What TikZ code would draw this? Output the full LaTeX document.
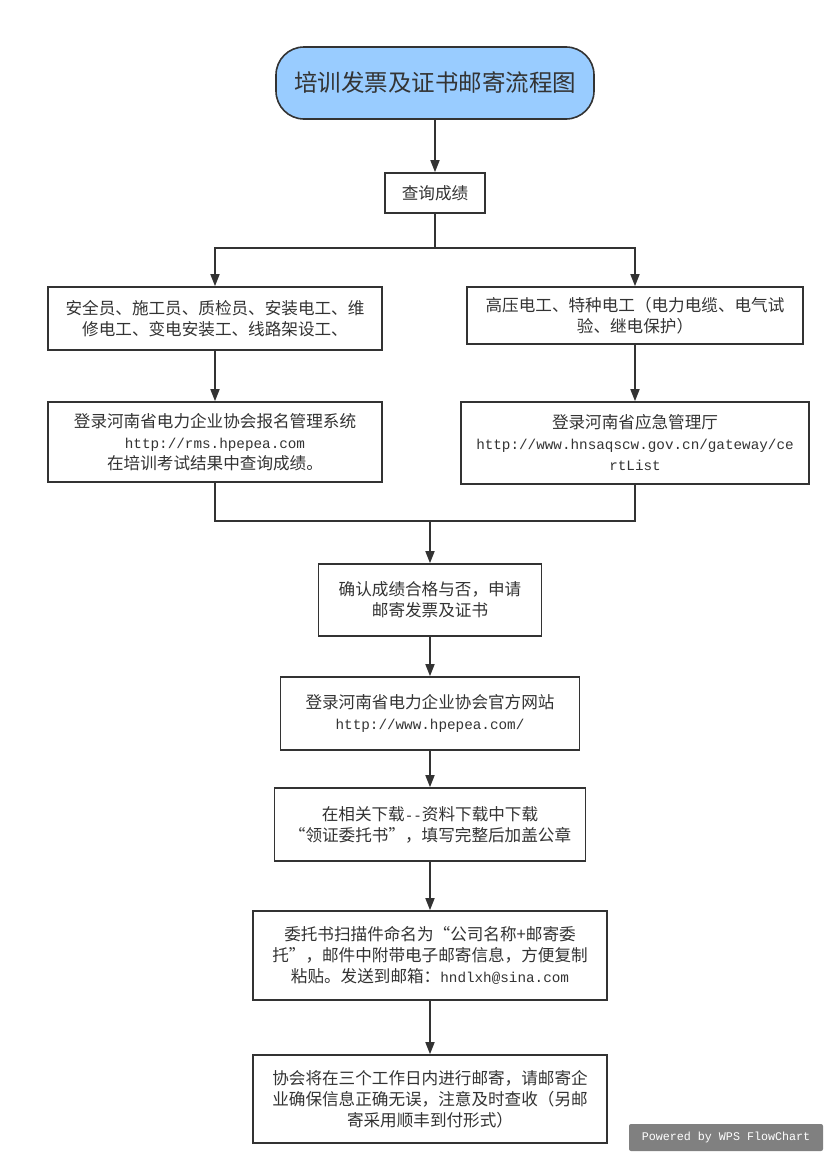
\documentclass[tikz,border=0pt]{standalone}
\usepackage{fontspec}
\setmainfont{Noto Sans CJK SC}
\newfontfamily\urlfont{Liberation Mono}
\usepackage{xcolor}
\usepackage{tikz}
\usetikzlibrary{arrows.meta}
\definecolor{inkgray}{HTML}{333333}
\definecolor{titleblue}{HTML}{99CCFF}
\definecolor{markgray}{HTML}{808080}
\newcommand\weblink[1]{{\urlfont\fontsize{14.3}{21}\selectfont #1}}

\begin{document}
\begin{tikzpicture}[x=1pt, y=-1pt,
  box/.style={draw=inkgray, line width=1.6pt, align=center, inner sep=0pt,
              text=inkgray, font=\fontsize{16.6}{21}\selectfont},
  term/.style={box, fill=titleblue, rounded corners=28pt, font=\fontsize{23.5}{28}\selectfont},
  proc/.style={box, fill=white},
  arr/.style={-{Triangle[length=12pt, width=9pt]}, line width=1.6pt, inkgray},
  wire/.style={line width=1.6pt, inkgray},
  wmbox/.style={fill=markgray, rounded corners=2pt, inner sep=0pt, text=white,
                font=\urlfont\fontsize{11.7}{14}\selectfont}]

\useasboundingbox (0,0) rectangle (840,1175);

% 标题与查询
\node[term, minimum width=318pt, minimum height=72pt] (title) at (435, 83) {培训发票及证书邮寄流程图};
\node[proc, minimum width=100pt, minimum height=40pt] (query) at (435, 193) {查询成绩};
\draw[arr] (title) -- (query);

% 两类工种
\node[proc, minimum width=334pt, minimum height=63pt] (general) at (215, 318.5)
  {安全员、施工员、质检员、安装电工、维\\修电工、变电安装工、线路架设工、};
\node[proc, minimum width=336pt, minimum height=57pt] (special) at (635, 315.5)
  {高压电工、特种电工（电力电缆、电气试\\验、继电保护）};
\node[proc, minimum width=334pt, minimum height=80pt] (assoc) at (215, 442)
  {登录河南省电力企业协会报名管理系统\\\weblink{http://rms.hpepea.com}\\在培训考试结果中查询成绩。};
\node[proc, minimum width=348pt, minimum height=82pt] (emerg) at (635, 443)
  {登录河南省应急管理厅\\\weblink{http://www.hnsaqscw.gov.cn/gateway/ce}\\\weblink{rtList}};

\coordinate (split) at (435, 248);
\draw[wire] (query) -- (split);
\draw[arr] (split) -| (general.north);
\draw[arr] (split) -| (special.north);
\draw[arr] (general) -- (assoc);
\draw[arr] (special) -- (emerg);

% 汇合后的主线
\node[proc, minimum width=223pt, minimum height=72pt] (confirm) at (430, 600)
  {确认成绩合格与否，申请\\邮寄发票及证书};
\node[proc, minimum width=299pt, minimum height=73pt] (site) at (430, 713.5)
  {登录河南省电力企业协会官方网站\\\weblink{http://www.hpepea.com/}};
\node[proc, minimum width=311pt, minimum height=73pt] (download) at (430, 824.5)
  {在相关下载\weblink{-{}-}资料下载中下载\\“领证委托书”，填写完整后加盖公章};
\node[proc, minimum width=354pt, minimum height=89pt] (mail) at (430, 955.5)
  {委托书扫描件命名为“公司名称+邮寄委\\托”，邮件中附带电子邮寄信息，方便复制\\粘贴。发送到邮箱：\weblink{hndlxh@sina.com}};
\node[proc, minimum width=354pt, minimum height=88pt] (post) at (430, 1099)
  {协会将在三个工作日内进行邮寄，请邮寄企\\业确保信息正确无误，注意及时查收（另邮\\寄采用顺丰到付形式）};

\coordinate (merge) at (430, 521);
\draw[wire] (assoc.south) |- (merge) -| (emerg.south);
\draw[arr] (merge) -- (confirm);
\draw[arr] (confirm) -- (site);
\draw[arr] (site) -- (download);
\draw[arr] (download) -- (mail);
\draw[arr] (mail) -- (post);

% 水印
\node[wmbox, minimum width=194pt, minimum height=27pt] (stamp) at (726, 1137.5) {Powered by WPS FlowChart};
\end{tikzpicture}
\end{document}
